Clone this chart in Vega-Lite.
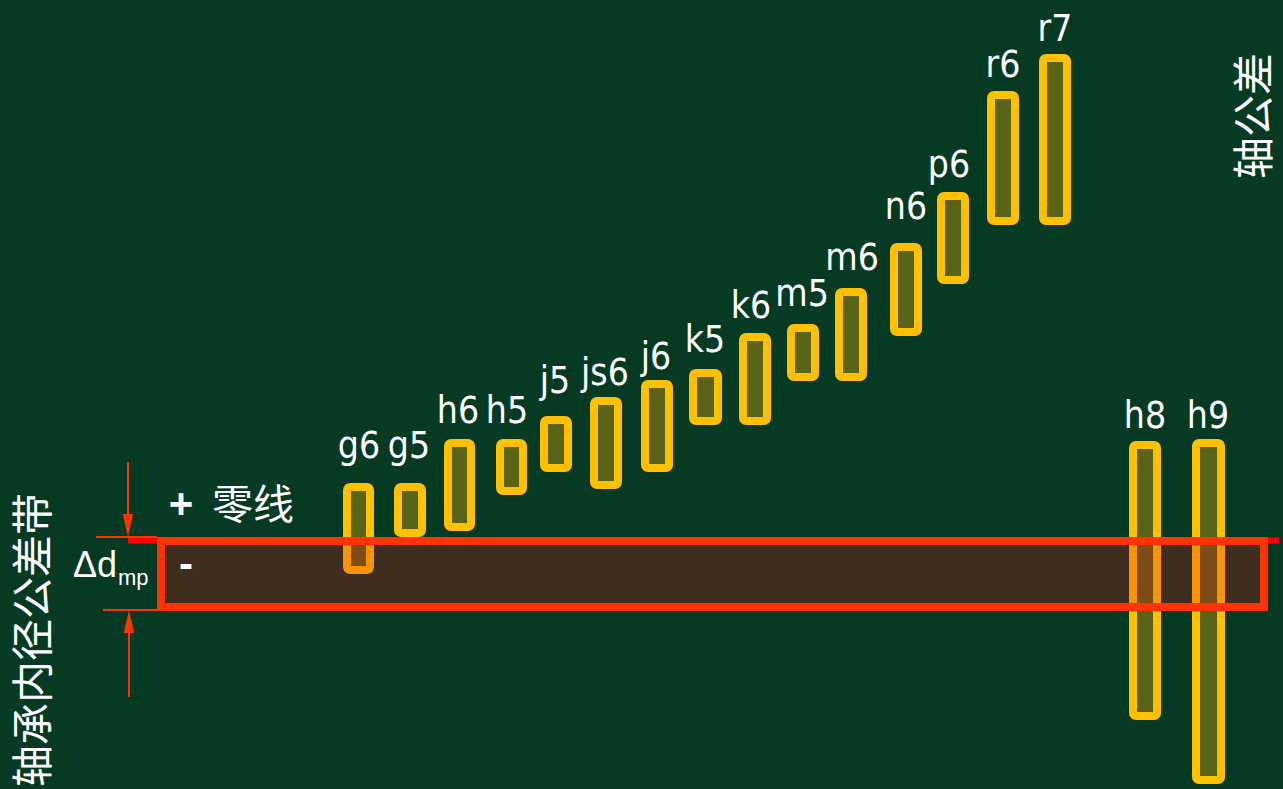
{
  "$schema": "https://vega.github.io/schema/vega-lite/v6.json",
  "width": 1283,
  "height": 789,
  "autosize": {"type": "fit", "contains": "padding"},
  "padding": 0,
  "background": "#063a23",
  "config": {"view": {"stroke": null}},
  "datasets": {
    "bars": [
      {"name": "g6", "left": 347, "right": 370, "top": 54, "bottom": -29, "labelX": 359, "labelY": 83},
      {"name": "g5", "left": 398, "right": 422, "top": 54, "bottom": 8, "labelX": 409, "labelY": 83},
      {"name": "h6", "left": 448, "right": 471, "top": 98, "bottom": 14, "labelX": 458, "labelY": 118},
      {"name": "h5", "left": 500, "right": 523, "top": 98, "bottom": 50, "labelX": 507, "labelY": 118},
      {"name": "j5", "left": 544, "right": 568, "top": 121, "bottom": 73, "labelX": 555, "labelY": 148},
      {"name": "js6", "left": 594, "right": 618, "top": 140, "bottom": 56, "labelX": 605, "labelY": 156},
      {"name": "j6", "left": 645, "right": 669, "top": 157, "bottom": 73, "labelX": 656, "labelY": 172},
      {"name": "k5", "left": 693, "right": 718, "top": 168, "bottom": 120, "labelX": 705, "labelY": 189},
      {"name": "k6", "left": 743, "right": 767, "top": 204, "bottom": 120, "labelX": 751, "labelY": 223},
      {"name": "m5", "left": 791, "right": 815, "top": 213, "bottom": 164, "labelX": 802, "labelY": 235},
      {"name": "m6", "left": 839, "right": 863, "top": 249, "bottom": 164, "labelX": 852, "labelY": 271},
      {"name": "n6", "left": 894, "right": 918, "top": 294, "bottom": 209, "labelX": 906, "labelY": 322},
      {"name": "p6", "left": 941, "right": 965, "top": 345, "bottom": 261, "labelX": 949, "labelY": 364},
      {"name": "r6", "left": 991, "right": 1015, "top": 446, "bottom": 320, "labelX": 1003, "labelY": 464},
      {"name": "r7", "left": 1043, "right": 1067, "top": 483, "bottom": 320, "labelX": 1055, "labelY": 500},
      {"name": "h8", "left": 1133, "right": 1157, "top": 96, "bottom": -175, "labelX": 1145, "labelY": 113},
      {"name": "h9", "left": 1196, "right": 1221, "top": 98, "bottom": -239, "labelX": 1208, "labelY": 113}
    ],
    "band": [{"left": 161, "right": 1264, "top": 0, "bottom": -66}],
    "zeroline": [{"from": 128, "to": 1279, "level": 0.5}],
    "hlines": [
      {"from": 96, "to": 157, "level": 4},
      {"from": 103, "to": 157, "level": -69}
    ],
    "vlines": [
      {"pos": 128, "from": 79, "to": 10},
      {"pos": 129, "from": -75, "to": -156}
    ],
    "heads": [
      {"pos": 128, "level": 15.5, "dir": "down"},
      {"pos": 129, "level": -80.5, "dir": "up"}
    ]
  },
  "layer": [
    {
      "data": {"name": "bars"},
      "mark": {"type": "rect", "fill": "#5a6419", "stroke": "#ffc000", "strokeWidth": 8, "cornerRadius": 3},
      "encoding": {
        "x": {"field": "left", "type": "quantitative", "scale": {"domain": [0, 1283], "nice": false, "zero": false}, "axis": null},
        "x2": {"field": "right"},
        "y": {"field": "top", "type": "quantitative", "scale": {"domain": [-248, 541], "nice": false, "zero": false}, "axis": null},
        "y2": {"field": "bottom"}
      }
    },
    {
      "data": {"name": "band"},
      "mark": {"type": "rect", "fill": "#ea0612", "fillOpacity": 0.25, "strokeWidth": 0},
      "encoding": {
        "x": {"field": "left", "type": "quantitative"},
        "x2": {"field": "right"},
        "y": {"field": "top", "type": "quantitative"},
        "y2": {"field": "bottom"}
      }
    },
    {
      "data": {"name": "zeroline"},
      "mark": {"type": "rule", "stroke": "#ff0000", "strokeWidth": 6},
      "encoding": {
        "x": {"field": "from", "type": "quantitative"},
        "x2": {"field": "to"},
        "y": {"field": "level", "type": "quantitative"}
      }
    },
    {
      "data": {"name": "band"},
      "mark": {"type": "rect", "filled": false, "stroke": "#ff3300", "strokeWidth": 8},
      "encoding": {
        "x": {"field": "left", "type": "quantitative"},
        "x2": {"field": "right"},
        "y": {"field": "top", "type": "quantitative"},
        "y2": {"field": "bottom"}
      }
    },
    {
      "data": {"name": "hlines"},
      "mark": {"type": "rule", "stroke": "#ff3300", "strokeWidth": 2},
      "encoding": {
        "x": {"field": "from", "type": "quantitative"},
        "x2": {"field": "to"},
        "y": {"field": "level", "type": "quantitative"}
      }
    },
    {
      "data": {"name": "vlines"},
      "mark": {"type": "rule", "stroke": "#ff3300", "strokeWidth": 2},
      "encoding": {
        "x": {"field": "pos", "type": "quantitative"},
        "y": {"field": "from", "type": "quantitative"},
        "y2": {"field": "to"}
      }
    },
    {
      "data": {"name": "heads"},
      "mark": {"type": "point", "filled": true, "fill": "#ff3300", "opacity": 1, "size": 529, "strokeWidth": 0},
      "encoding": {
        "x": {"field": "pos", "type": "quantitative"},
        "y": {"field": "level", "type": "quantitative"},
        "shape": {"field": "dir", "type": "nominal", "legend": null, "scale": {"domain": ["down", "up"], "range": ["M-0.45,-1L0.45,-1L0,1Z", "M-0.45,1L0.45,1L0,-1Z"]}}
      }
    },
    {
      "data": {"name": "bars"},
      "mark": {"type": "text", "color": "white", "font": "'Liberation Sans Narrow', 'DejaVu Sans Condensed', 'Liberation Sans', sans-serif", "fontSize": 37, "align": "center", "baseline": "alphabetic"},
      "encoding": {
        "x": {"field": "labelX", "type": "quantitative"},
        "y": {"field": "labelY", "type": "quantitative"},
        "text": {"field": "name"}
      }
    },
    {
      "data": {"values": [{"t": "+", "px": 181, "py": 36}, {"t": "-", "px": 186, "py": -24}]},
      "mark": {"type": "text", "color": "white", "font": "Liberation Sans", "fontWeight": "bold", "fontSize": 42, "align": "center", "baseline": "middle"},
      "encoding": {
        "x": {"field": "px", "type": "quantitative"},
        "y": {"field": "py", "type": "quantitative"},
        "text": {"field": "t"}
      }
    },
    {
      "data": {"values": [{"t": "零线", "px": 253, "py": 34}]},
      "mark": {"type": "text", "color": "white", "font": "Noto Sans CJK SC", "fontSize": 41, "align": "center", "baseline": "middle"},
      "encoding": {
        "x": {"field": "px", "type": "quantitative"},
        "y": {"field": "py", "type": "quantitative"},
        "text": {"field": "t"}
      }
    },
    {
      "data": {"values": [{"t": "Δd", "px": 73, "py": -36}]},
      "mark": {"type": "text", "color": "white", "font": "Liberation Sans", "fontSize": 36, "align": "left", "baseline": "alphabetic"},
      "encoding": {
        "x": {"field": "px", "type": "quantitative"},
        "y": {"field": "py", "type": "quantitative"},
        "text": {"field": "t"}
      }
    },
    {
      "data": {"values": [{"t": "mp", "px": 118, "py": -44}]},
      "mark": {"type": "text", "color": "white", "font": "Liberation Sans", "fontSize": 22, "align": "left", "baseline": "alphabetic"},
      "encoding": {
        "x": {"field": "px", "type": "quantitative"},
        "y": {"field": "py", "type": "quantitative"},
        "text": {"field": "t"}
      }
    },
    {
      "data": {"values": [{"t": "轴承内径公差带", "px": 35, "py": -99}, {"t": "轴公差", "px": 1256, "py": 425}]},
      "mark": {"type": "text", "color": "white", "font": "Noto Sans CJK SC", "fontSize": 42, "angle": 270, "align": "center", "baseline": "middle"},
      "encoding": {
        "x": {"field": "px", "type": "quantitative"},
        "y": {"field": "py", "type": "quantitative"},
        "text": {"field": "t"}
      }
    }
  ]
}
